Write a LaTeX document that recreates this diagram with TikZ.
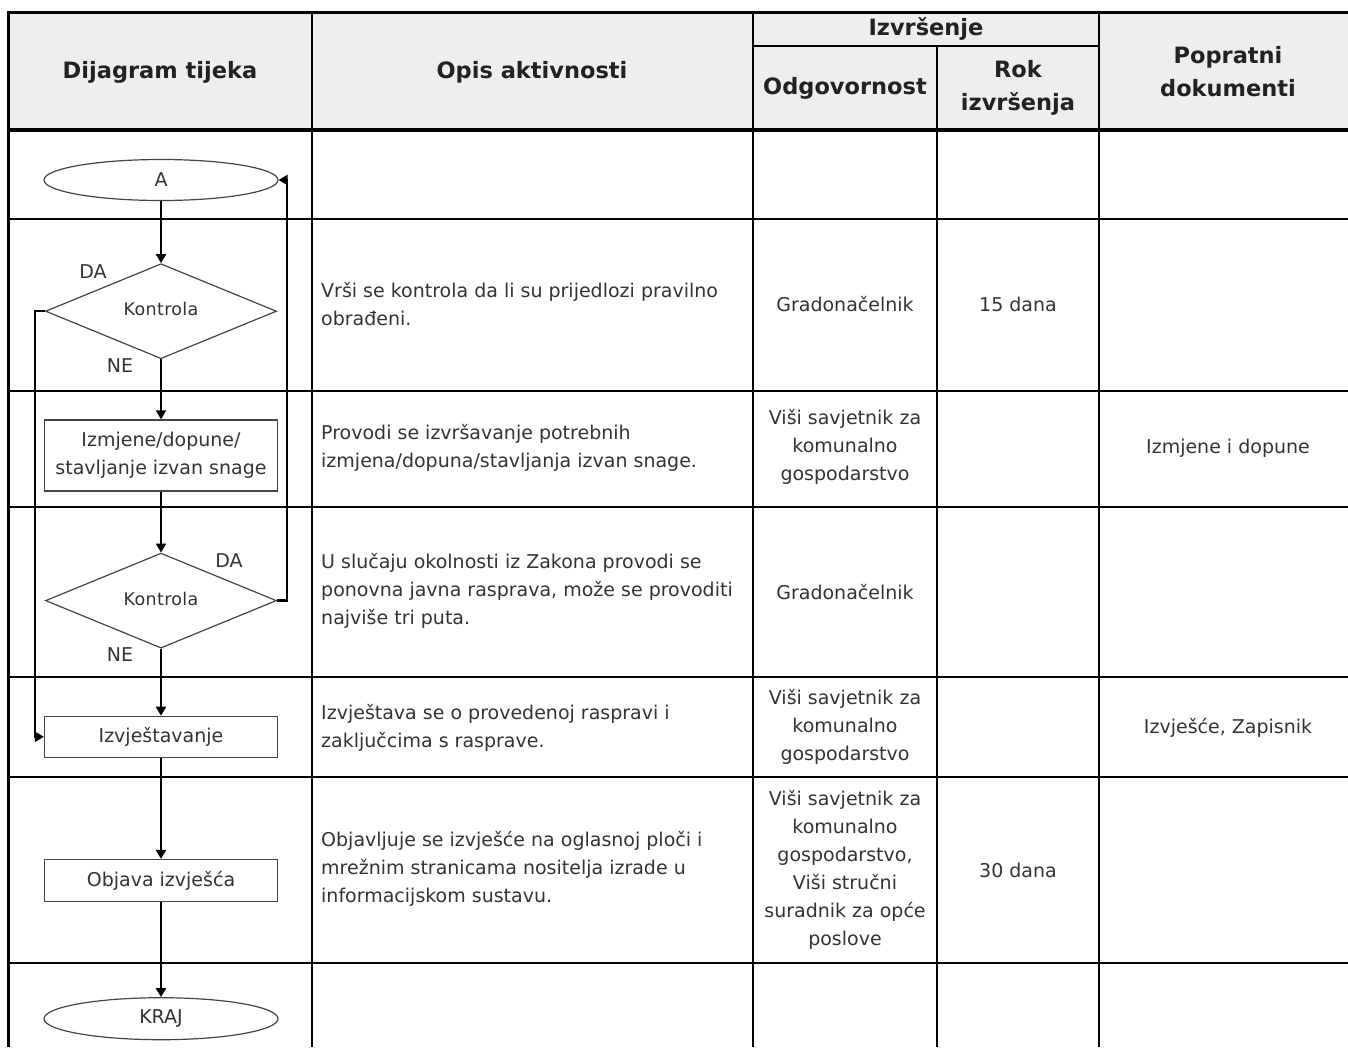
\documentclass[tikz,border=0pt]{standalone}
\usepackage{fontspec}
\setmainfont{DejaVu Sans}
\usetikzlibrary{positioning,shapes.geometric,arrows.meta}
\definecolor{hdrfill}{HTML}{EEEEEE}
\definecolor{txt}{HTML}{333333}
\definecolor{hdrtxt}{HTML}{222222}
\definecolor{shapeline}{HTML}{444444}
\newcommand{\bodyfont}{\fontsize{19}{28}\selectfont}
\newcommand{\hdrfont}{\fontsize{22.5}{33}\selectfont\bfseries}
\newcommand{\ctrlfont}{\fontsize{17.5}{20}\selectfont\addfontfeature{LetterSpace=2}}

\tikzset{
  tabline/.style={line width=2pt},
  hdr/.style={font=\hdrfont, text=hdrtxt, align=center},
  cell/.style={font=\bodyfont, text=txt, align=center},
  desc/.style={font=\bodyfont, text=txt, align=left, anchor=west, inner sep=0pt},
  term/.style={ellipse, draw=shapeline, line width=1.2pt, minimum width=234pt, minimum height=41pt, inner sep=0pt, font=\bodyfont, text=txt},
  proc/.style={rectangle, draw=shapeline, line width=1.2pt, minimum width=233pt, inner sep=0pt, align=center, font=\bodyfont, text=txt},
  dec/.style={diamond, draw=shapeline, line width=1.2pt, minimum width=231pt, minimum height=95pt, inner sep=0pt, font=\ctrlfont, text=txt},
  flow/.style={line width=2.4pt, -{Triangle[length=9pt,width=10pt]}},
  lbl/.style={font=\bodyfont, text=txt}
}

\begin{document}
\begin{tikzpicture}[x=1pt,y=-1pt]
  \useasboundingbox (0,0) rectangle (1348,1047);
  \fill[hdrfill] (8,12) rectangle (1348,130);

  \foreach \y in {219,391,507,677,777,963}
    \draw[tabline] (8,\y) -- (1348,\y);
  \foreach \x in {312,753,1099}
    \draw[tabline] (\x,12) -- (\x,1047);
  \draw[tabline] (937,46) -- (937,1047);
  \draw[tabline] (753,46) -- (1099,46);
  \draw[line width=4pt] (8,130) -- (1348,130);
  \draw[line width=3pt] (8,12) -- (1348,12);
  \draw[line width=3pt] (8,10.5) -- (8,1047);

  \node[hdr] (h1) at (160,72) {Dijagram tijeka};
  \node[hdr] (h2) at (532,72) {Opis aktivnosti};
  \node[hdr] (h3) at (926,29) {Izvršenje};
  \node[hdr] (h4) at (845,88) {Odgovornost};
  \node[hdr] (h5) at (1018,88) {Rok\\izvršenja};
  \node[hdr] (h6) at (1228,72) {Popratni\\dokumenti};

  \node[term] (a) at (161,180) {A};
  \node[dec] (k1) [below=62pt of a] {\raisebox{4pt}{Kontrola}};
  \node[proc, minimum height=71pt] (izm) [below=60pt of k1] {Izmjene/dopune/\\stavljanje izvan snage};
  \node[dec] (k2) [below=61pt of izm] {\raisebox{4pt}{Kontrola}};
  \node[proc, minimum height=41pt] (izv) [below=67pt of k2] {Izvještavanje};
  \node[proc, minimum height=42pt] (obj) [below=101pt of izv] {Objava izvješća};
  \node[term, minimum height=42pt] (kraj) [below=95pt of obj] {KRAJ};

  \draw[flow] (a) -- (k1);
  \draw[flow] (k1) -- (izm);
  \draw[flow] (izm) -- (k2);
  \draw[flow] (k2) -- (izv);
  \draw[flow] (izv) -- (obj);
  \draw[flow] (obj) -- (kraj);
  \draw[flow] (k1.west) -- ++(-10pt,0) |- (izv.west);
  \draw[flow] (k2.east) -- ++(10pt,0) |- (a.east);

  \node[lbl] (da1) at (93,272) {DA};
  \node[lbl] (ne1) at (120,366) {NE};
  \node[lbl] (da2) at (229,561) {DA};
  \node[lbl] (ne2) at (120,655) {NE};

  \node[desc] (o2) at (321,304) {Vrši se kontrola da li su prijedlozi pravilno\\obrađeni.};
  \node[desc] (o3) at (321,448) {Provodi se izvršavanje potrebnih\\izmjena/dopuna/stavljanja izvan snage.};
  \node[desc] (o4) at (321,591) {U slučaju okolnosti iz Zakona provodi se\\ponovna javna rasprava, može se provoditi\\najviše tri puta.};
  \node[desc] (o5) at (321,728) {Izvještava se o provedenoj raspravi i\\zaključcima s rasprave.};
  \node[desc] (o6) at (321,869) {Objavljuje se izvješće na oglasnoj ploči i\\mrežnim stranicama nositelja izrade u\\informacijskom sustavu.};

  \node[cell] (g2) at (845,304) {Gradonačelnik};
  \node[cell] (g3) at (845,447) {Viši savjetnik za\\komunalno\\gospodarstvo};
  \node[cell] (g4) at (845,592) {Gradonačelnik};
  \node[cell] (g5) at (845,727) {Viši savjetnik za\\komunalno\\gospodarstvo};
  \node[cell] (g6) at (845,870) {Viši savjetnik za\\komunalno\\gospodarstvo,\\Viši stručni\\suradnik za opće\\poslove};

  \node[cell] (r2) at (1018,304) {15 dana};
  \node[cell] (r6) at (1018,870) {30 dana};

  \node[cell] (p3) at (1228,448) {Izmjene i dopune};
  \node[cell] (p5) at (1228,728) {Izvješće, Zapisnik};
\end{tikzpicture}
\end{document}
